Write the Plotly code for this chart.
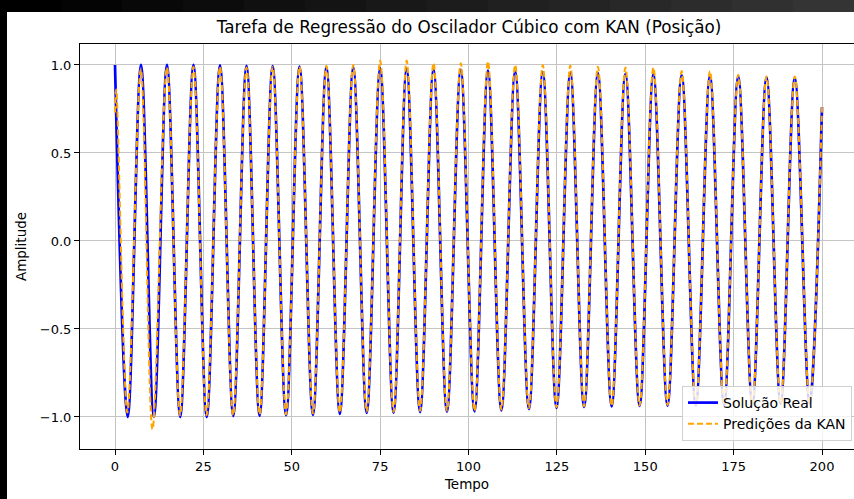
import plotly.graph_objects as go

# ---- data ----
t_true = [0, 3.6, 7.35, 11.0, 14.7, 18.45, 22.2, 25.95, 29.7, 33.45, 37.2, 40.9, 44.6,
          48.4, 52.2, 56.0, 59.8, 63.6, 67.4, 71.2, 75.0, 78.8, 82.5, 86.3, 90.1, 93.9,
          97.8, 101.7, 105.5, 109.3, 113.2, 117.1, 121.0, 124.9, 128.8, 132.7, 136.6,
          140.5, 144.4, 148.4, 152.3, 156.3, 160.3, 164.3, 168.3, 172.3, 176.3, 180.3,
          184.3, 188.3, 192.3, 196.5, 200]
y_true = [1.0, -1.0, 1.0, -1.0, 1.0, -1.0, 1.0, -1.0, 0.998, -0.995, 0.995, -0.993, 0.993,
          -0.99, 0.99, -0.988, 0.988, -0.982, 0.985, -0.977, 0.98, -0.975, 0.978, -0.972,
          0.975, -0.97, 0.972, -0.968, 0.968, -0.963, 0.963, -0.955, 0.96, -0.948, 0.957,
          -0.943, 0.953, -0.94, 0.95, -0.937, 0.948, -0.935, 0.943, -0.933, 0.938, -0.93,
          0.935, -0.928, 0.93, -0.925, 0.926, -0.922, 0.76]

t_pred = [0, 0.35, 3.5, 7.3, 10.6, 14.7, 18.4, 22.2, 25.9, 29.7, 33.4, 37.2, 40.9, 44.6,
          48.4, 52.2, 56.0, 59.8, 63.6, 67.4, 71.2, 75.0, 78.8, 82.5, 86.3, 90.1, 93.9,
          97.8, 101.7, 105.5, 109.3, 113.2, 117.1, 121.0, 124.9, 128.8, 132.7, 136.6,
          140.5, 144.4, 148.4, 152.3, 156.3, 160.3, 164.3, 168.3, 172.3, 176.3, 180.3,
          184.3, 188.3, 192.3, 196.5, 200]
y_pred = [0.73, 0.86, -0.975, 0.975, -1.07, 0.985, -0.99, 0.99, -0.99, 0.99, -0.99, 0.985,
          -0.985, 0.99, -0.985, 0.99, -0.98, 0.995, -0.975, 1.0, -0.97, 1.025, -0.97, 1.025,
          -0.965, 1.01, -0.965, 1.01, -0.965, 1.02, -0.958, 1.0, -0.95, 1.0, -0.945, 0.997,
          -0.94, 0.99, -0.937, 0.985, -0.935, 0.985, -0.932, 0.965, -0.93, 0.965, -0.928,
          0.945, -0.926, 0.935, -0.923, 0.935, -0.92, 0.76]

x_ticks = [0, 25, 50, 75, 100, 125, 150, 175, 200]
y_ticks = [-1.0, -0.5, 0.0, 0.5, 1.0]
y_tick_text = ["\u22121.0", "\u22120.5", "0.0", "0.5", "1.0"]

title_text = "Tarefa de Regressão do Oscilador Cúbico com KAN (Posição)"
name_true = "Solução Real"
name_pred = "Predições da KAN"

# ---- figure ----
W, H = 854, 499
ML, MT, MB, MR = 80, 44, 50, 0
PW, PH = W - ML - MR, H - MT - MB
FONT = "DejaVu Sans"

fig = go.Figure()
fig.add_trace(go.Scatter(x=t_true, y=y_true, mode="lines", name=name_true,
                         line=dict(color="#0000ff", width=2.7, shape="spline", smoothing=1.0)))
fig.add_trace(go.Scatter(x=t_pred, y=y_pred, mode="lines", name=name_pred,
                         line=dict(color="#ffa500", width=2, dash="6px,3px",
                                   shape="spline", smoothing=1.0)))

def px_to_paper_x(px):
    return (px - ML) / PW

def px_to_paper_y(py):
    return (H - MB - py) / PH

shapes = []
# screenshot artefacts: black strip on the left, dark band on top
n_seg = 14
for i in range(n_seg):
    g = int(round(0x34 * i / (n_seg - 1)))
    col = f"rgb({g},{g},{g})"
    shapes.append(dict(type="rect", xref="paper", yref="paper",
                       x0=px_to_paper_x(W * i / n_seg), x1=px_to_paper_x(W * (i + 1) / n_seg + 1),
                       y0=px_to_paper_y(12), y1=px_to_paper_y(0),
                       fillcolor=col, line=dict(width=0), layer="above"))
shapes.append(dict(type="rect", xref="paper", yref="paper",
                   x0=px_to_paper_x(0), x1=px_to_paper_x(7),
                   y0=px_to_paper_y(H), y1=px_to_paper_y(0),
                   fillcolor="black", line=dict(width=0), layer="above"))

fig.update_layout(
    width=W, height=H,
    margin=dict(l=ML, r=MR, t=MT, b=MB, pad=0),
    paper_bgcolor="white", plot_bgcolor="white",
    font=dict(family=FONT, size=13, color="black"),
    title=dict(text=title_text, font=dict(family=FONT, size=16.8, color="black"),
               x=px_to_paper_x(469), xref="paper", xanchor="center",
               y=1 - 27 / H, yref="container", yanchor="middle"),
    showlegend=True,
    legend=dict(x=px_to_paper_x(852), y=px_to_paper_y(441), xanchor="right", yanchor="bottom",
                bgcolor="rgba(255,255,255,0.8)", bordercolor="#d0d0d0", borderwidth=1,
                font=dict(family=FONT, size=14, color="black"), tracegroupgap=0),
    shapes=shapes,
)

fig.update_xaxes(range=[(ML - 115) / 3.535, (W - 115) / 3.535],
                 tickvals=x_ticks, ticks="outside", ticklen=5, tickwidth=1, tickcolor="black",
                 showline=True, linecolor="black", linewidth=1, mirror=True,
                 showgrid=True, gridcolor="#c4c4c4", gridwidth=1, zeroline=False,
                 tickfont=dict(family=FONT, size=13),
                 title=dict(text="Tempo", font=dict(family=FONT, size=13.5), standoff=6))
fig.update_yaxes(range=[-1.182, 1.119],
                 tickvals=y_ticks, ticktext=y_tick_text,
                 ticks="outside", ticklen=5, tickwidth=1, tickcolor="black",
                 showline=True, linecolor="black", linewidth=1, mirror=False,
                 showgrid=True, gridcolor="#c4c4c4", gridwidth=1, zeroline=False,
                 tickfont=dict(family=FONT, size=13),
                 title=dict(text="Amplitude", font=dict(family=FONT, size=13.5), standoff=10))

fig.write_html("out.html")
